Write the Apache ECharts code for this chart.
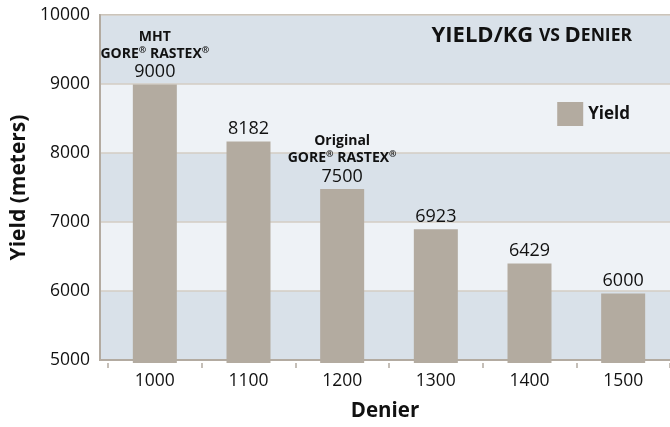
<!DOCTYPE html>
<html>
<head>
<meta charset="utf-8">
<script src="https://cdn.jsdelivr.net/npm/echarts@6/dist/echarts.min.js"></script>
<style>html,body{margin:0;padding:0;background:#fff}#c{width:670px;height:427px}</style>
</head>
<body>
<div id="c"></div>
<script>
var categories = ['1000', '1100', '1200', '1300', '1400', '1500'];
var yieldValues = [9000, 8182, 7500, 6923, 6429, 6000];
var annotations = [['MHT', 'GORE', 'RASTEX'], null, ['Original', 'GORE', 'RASTEX'], null, null, null];
var yTicks = [5000, 6000, 7000, 8000, 9000, 10000];

var FONT = '"Open Sans", "Noto Sans", sans-serif';
var TAN = '#b3aba1';

var chart = echarts.init(document.getElementById('c'));
chart.setOption({
  animation: false,
  textStyle: { fontFamily: FONT },
  title: {
    text: '{a|YIELD/KG }{s|VS }{a|D}{s|ENIER}',
    right: 33, top: 20,
    textStyle: {
      rich: {
        a: { fontFamily: FONT, fontWeight: 'bold', fontSize: 22, color: '#111' },
        s: { fontFamily: FONT, fontWeight: 'bold', fontSize: 17.5, color: '#111' }
      }
    }
  },
  legend: {
    data: ['Yield'],
    right: 35, top: 97,
    itemWidth: 26, itemHeight: 24, itemGap: 9,
    icon: 'rect',
    textStyle: { fontFamily: FONT, fontWeight: 'bold', fontSize: 17, color: '#111' }
  },
  grid: [
    { left: 100, right: -2, top: 15, bottom: 64,
      show: true, borderColor: TAN, borderWidth: 2, backgroundColor: 'transparent' },
    { left: 108, right: 0, top: 15, bottom: 64 }
  ],
  xAxis: [
    { gridIndex: 0, type: 'category', data: [''],
      name: 'Denier', nameLocation: 'middle', nameGap: 41,
      nameTextStyle: { fontFamily: FONT, fontWeight: 'bold', fontSize: 20.5, color: '#111' },
      axisLine: { lineStyle: { color: TAN, width: 2 } },
      axisTick: { show: false }, axisLabel: { show: false } },
    { gridIndex: 1, type: 'category', data: categories,
      axisLine: { show: false },
      axisTick: { show: true, length: 5, lineStyle: { color: TAN, width: 1.5 } },
      axisLabel: { margin: 9, fontSize: 17.5, color: '#111', fontFamily: FONT } }
  ],
  yAxis: [
    { gridIndex: 0, type: 'value', min: 5000, max: 10000, interval: 1000,
      name: 'Yield (meters)', nameLocation: 'middle', nameGap: 62,
      nameTextStyle: { fontFamily: FONT, fontWeight: 'bold', fontSize: 21, color: '#111' },
      axisLine: { show: true, lineStyle: { color: TAN, width: 2 } },
      axisTick: { show: false },
      axisLabel: { margin: 10, fontSize: 17.5, color: '#111', fontFamily: FONT,
        formatter: function (v) { return yTicks.indexOf(v) >= 0 ? String(v) : ''; } },
      splitLine: { show: true, lineStyle: { color: '#d3ccc3', width: 1.5 } },
      splitArea: { show: true, areaStyle: { color: ['#d9e1e9', '#eef2f6'] } } },
    { gridIndex: 1, type: 'value', min: 5000, max: 10000, interval: 1000, show: false,
      splitLine: { show: false } }
  ],
  series: [{
    name: 'Yield',
    type: 'bar',
    xAxisIndex: 1, yAxisIndex: 1,
    data: yieldValues,
    barWidth: 44,
    itemStyle: { color: '#b3aba0' },
    label: {
      show: true,
      position: 'top',
      distance: 3,
      formatter: function (p) {
        var a = annotations[p.dataIndex];
        var v = '{v|' + p.value + '}';
        if (!a) return v;
        return '{b|' + a[0] + '}\n{b|' + a[1] + '}{r|®}{b| ' + a[2] + '}{r|®}\n' + v;
      },
      rich: {
        v: { fontFamily: FONT, fontSize: 18, color: '#111', lineHeight: 19 },
        b: { fontFamily: FONT, fontWeight: 'bold', fontSize: 14, color: '#111', lineHeight: 17 },
        r: { fontFamily: FONT, fontWeight: 'bold', fontSize: 9, color: '#111', lineHeight: 17, verticalAlign: 'top' }
      }
    }
  }]
});
</script>
</body>
</html>
